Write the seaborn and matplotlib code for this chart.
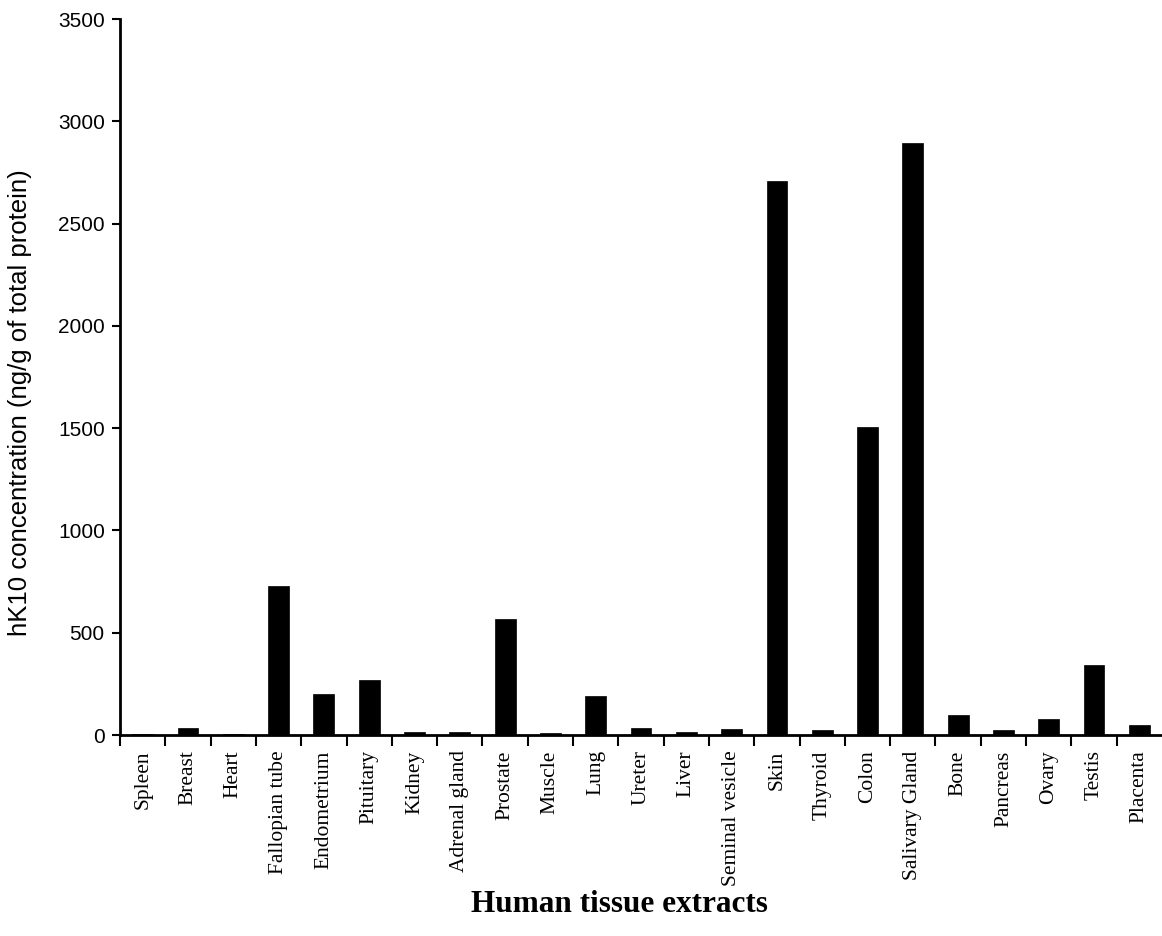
import matplotlib
matplotlib.use("Agg")
import matplotlib.pyplot as plt
import seaborn as sns
import pandas as pd
import numpy as np
from matplotlib.ticker import FixedLocator, MultipleLocator

tissues = ["Spleen", "Breast", "Heart", "Fallopian tube", "Endometrium", "Pituitary",
           "Kidney", "Adrenal gland", "Prostate", "Muscle", "Lung", "Ureter", "Liver",
           "Seminal vesicle", "Skin", "Thyroid", "Colon", "Salivary Gland", "Bone",
           "Pancreas", "Ovary", "Testis", "Placenta"]
concentration = [4, 35, 3, 730, 200, 270, 17, 17, 567, 9, 190, 35, 16, 28, 2710,
                 24, 1504, 2895, 97, 24, 78, 340, 47]

df = pd.DataFrame({"tissue": tissues, "conc": concentration})

sns.set_style("ticks")
plt.rcParams['font.family'] = ['Liberation Sans', 'DejaVu Sans']
plt.rcParams['text.color'] = 'black'
plt.rcParams['axes.labelcolor'] = 'black'
plt.rcParams['xtick.color'] = 'black'
plt.rcParams['ytick.color'] = 'black'

fig = plt.figure(figsize=(11.62, 9.36), dpi=100)
ax = fig.add_axes([0.1033, 0.2147, 0.8967, 0.765])

sns.barplot(data=df, x="tissue", y="conc", color="black", width=0.46,
            saturation=1, ax=ax, edgecolor="black", linewidth=0.5)

ax.set_ylim(0, 3500)
ax.set_xlim(-0.5, len(tissues) - 0.5)
ax.yaxis.set_major_locator(MultipleLocator(500))
ax.tick_params(axis="y", direction="out", length=6, width=1.5, labelsize=15, pad=5,
               colors="black")
for lab in ax.get_yticklabels():
    lab.set_family(['Liberation Sans', 'DejaVu Sans'])

# category labels at centres, tick marks at boundaries
ax.set_xticks(np.arange(len(tissues)))
ax.set_xticklabels(tissues, rotation=90, fontsize=15.5,
                   family=['Liberation Serif', 'DejaVu Serif'], color="black")
ax.xaxis.set_minor_locator(FixedLocator(np.arange(len(tissues)) - 0.5))
ax.tick_params(axis="x", which="major", length=0, pad=11, colors="black")
ax.tick_params(axis="x", which="minor", direction="out", length=8, width=1.5, color="black")

for s in ["top", "right"]:
    ax.spines[s].set_visible(False)
for s in ["left", "bottom"]:
    ax.spines[s].set_linewidth(2)
    ax.spines[s].set_color("black")

ax.set_ylabel("hK10 concentration (ng/g of total protein)", fontsize=18.5,
              family=['Liberation Sans', 'DejaVu Sans'], color="black")
ax.yaxis.set_label_coords(-0.0845, 0.464)
ax.set_xlabel("Human tissue extracts", fontsize=22.5, fontweight="bold",
              family=['Liberation Serif', 'DejaVu Serif'], color="black")
ax.xaxis.set_label_coords(0.479, -0.216)

fig.savefig("out.png", dpi=100, facecolor="white")
